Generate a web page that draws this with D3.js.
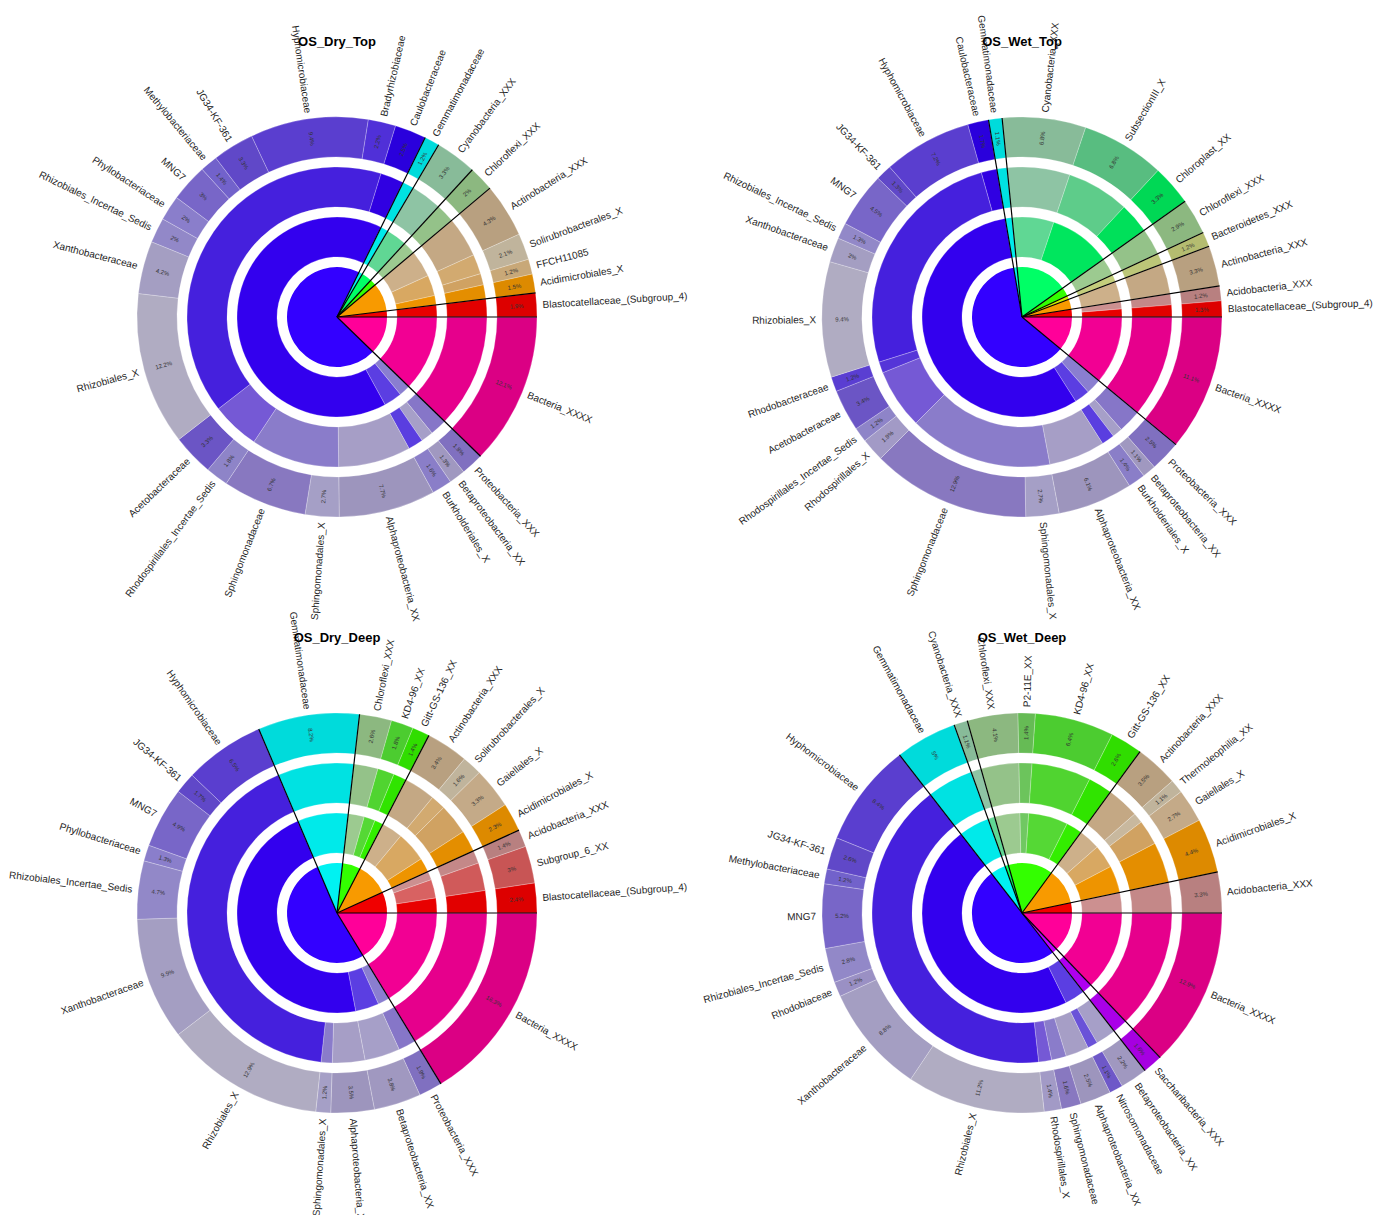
<!DOCTYPE html>
<html>
<head>
<meta charset="utf-8">
<script src="https://cdn.jsdelivr.net/npm/d3@7"></script>
<style>
  body { margin: 0; background: #fff; }
  text { font-family: "Liberation Sans", Arial, sans-serif; }
  .title { font-weight: bold; font-size: 13px; }
  .label { font-size: 10px; fill: #262626; }
  .pct { font-size: 6px; fill: #333; }
</style>
</head>
<body>
<div class="container"></div>
<script>
// ---- data ----
const panelTitles = ['OS_Dry_Top', 'OS_Wet_Top', 'OS_Dry_Deep', 'OS_Wet_Deep'];

const dryTopFamilies = ['Bacteria_XXXX', 'Proteobacteria_XXX', 'Betaproteobacteria_XX', 'Burkholderiales_X',
    'Alphaproteobacteria_XX', 'Sphingomonadales_X', 'Sphingomonadaceae', 'Rhodospirillales_Incertae_Sedis',
    'Acetobacteraceae', 'Rhizobiales_X', 'Xanthobacteraceae', 'Rhizobiales_Incertae_Sedis', 'Phyllobacteriaceae',
    'MNG7', 'Methylobacteriaceae', 'JG34-KF-361', 'Hyphomicrobiaceae', 'Bradyrhizobiaceae', 'Caulobacteraceae',
    'Gemmatimonadaceae', 'Cyanobacteria_XXX', 'Chloroflexi_XXX', 'Actinobacteria_XXX', 'Solirubrobacterales_X',
    'FFCH11085', 'Acidimicrobiales_X', 'Blastocatellaceae_(Subgroup_4)'];
const dryTopPercent = [12.1, 1.8, 1.3, 1.6, 7.7, 2.7, 6.7, 1.8, 3.3, 12.2, 4.2, 2, 2, 3, 1.4, 3.3, 9.4, 2.2, 2.5,
    1.2, 3.3, 2, 4.3, 2.1, 1.2, 1.5, 1.9];

const wetTopFamilies = ['Bacteria_XXXX', 'Proteobacteria_XXX', 'Betaproteobacteria_XX', 'Burkholderiales_X',
    'Alphaproteobacteria_XX', 'Sphingomonadales_X', 'Sphingomonadaceae', 'Rhodospirillales_X',
    'Rhodospirillales_Incertae_Sedis', 'Acetobacteraceae', 'Rhodobacteraceae', 'Rhizobiales_X', 'Xanthobacteraceae',
    'Rhizobiales_Incertae_Sedis', 'MNG7', 'JG34-KF-361', 'Hyphomicrobiaceae', 'Caulobacteraceae',
    'Gemmatimonadaceae', 'Cyanobacteria_XXX', 'SubsectionIII_X', 'Chloroplast_XX', 'Chloroflexi_XXX',
    'Bacteroidetes_XXX', 'Actinobacteria_XXX', 'Acidobacteria_XXX', 'Blastocatellaceae_(Subgroup_4)'];
const wetTopPercent = [11.1, 2.5, 1.1, 1.4, 6.1, 2.7, 12.9, 1.9, 1.2, 3.4, 1.2, 9.4, 2, 1.3, 4.5, 1.3, 7.2, 1.7,
    1.1, 6.8, 6.8, 3.3, 2.9, 1.2, 3.3, 1.2, 1.3];

const dryDeepFamilies = ['Bacteria_XXXX', 'Proteobacteria_XXX', 'Betaproteobacteria_XX', 'Alphaproteobacteria_XX',
    'Sphingomonadales_X', 'Rhizobiales_X', 'Xanthobacteraceae', 'Rhizobiales_Incertae_Sedis', 'Phyllobacteriaceae',
    'MNG7', 'JG34-KF-361', 'Hyphomicrobiaceae', 'Gemmatimonadaceae', 'Chloroflexi_XXX', 'KD4-96_XX',
    'Gitt-GS-136_XX', 'Actinobacteria_XXX', 'Solirubrobacterales_X', 'Gaiellales_X', 'Acidimicrobiales_X',
    'Acidobacteria_XXX', 'Subgroup_6_XX', 'Blastocatellaceae_(Subgroup_4)'];
const dryDeepPercent = [16.3, 1.9, 3.8, 3.5, 1.2, 12.9, 9.9, 4.7, 1.3, 4.9, 1.7, 6.5, 8.2, 2.6, 1.8, 1.4, 3.4, 1.6,
    3.3, 2.3, 1.4, 3.0, 2.4];

const wetDeepFamilies = ['Bacteria_XXXX', 'Saccharibacteria_XXX', 'Betaproteobacteria_XX', 'Nitrosomonadaceae',
    'Alphaproteobacteria_XX', 'Sphingomonadaceae', 'Rhodospirillales_X', 'Rhizobiales_X', 'Xanthobacteraceae',
    'Rhodobiaceae', 'Rhizobiales_Incertae_Sedis', 'MNG7', 'Methylobacteriaceae', 'JG34-KF-361', 'Hyphomicrobiaceae',
    'Gemmatimonadaceae', 'Cyanobacteria_XXX', 'Chloroflexi_XXX', 'P2-11E_XX', 'KD4-96_XX', 'Gitt-GS-136_XX',
    'Actinobacteria_XXX', 'Thermoleophilia_XX', 'Gaiellales_X', 'Acidimicrobiales_X', 'Acidobacteria_XXX'];
const wetDeepPercent = [12.9, 1.6, 2.2, 1.1, 2.5, 1.6, 1.4, 11.2, 8.8, 1.2, 2.8, 5.2, 1.2, 2.6, 8.4,
    5, 1.1, 4.1, 1.4, 6.4, 2.6, 3.5, 1.1, 2.7, 4.4, 3.3];

// family -> [phylum, class, order]
const lineage = {
    'Bacteria_XXXX': ['Bacteria_X', 'Bacteria_XX', 'Bacteria_XXX'],
    'Saccharibacteria_XXX': ['Saccharibacteria', 'Saccharibacteria_X', 'Saccharibacteria_XX'],
    'Proteobacteria_XXX': ['Proteobacteria', 'Proteobacteria_X', 'Proteobacteria_XX'],
    'Betaproteobacteria_XX': ['Proteobacteria', 'Betaproteobacteria', 'Betaproteobacteria_X'],
    'Burkholderiales_X': ['Proteobacteria', 'Betaproteobacteria', 'Burkholderiales'],
    'Nitrosomonadaceae': ['Proteobacteria', 'Betaproteobacteria', 'Nitrosomonadales'],
    'Alphaproteobacteria_XX': ['Proteobacteria', 'Alphaproteobacteria', 'Alphaproteobacteria_X'],
    'Sphingomonadales_X': ['Proteobacteria', 'Alphaproteobacteria', 'Sphingomonadales'],
    'Sphingomonadaceae': ['Proteobacteria', 'Alphaproteobacteria', 'Sphingomonadales'],
    'Rhodospirillales_X': ['Proteobacteria', 'Alphaproteobacteria', 'Rhodospirillales'],
    'Rhodospirillales_Incertae_Sedis': ['Proteobacteria', 'Alphaproteobacteria', 'Rhodospirillales'],
    'Acetobacteraceae': ['Proteobacteria', 'Alphaproteobacteria', 'Rhodospirillales'],
    'Rhodobacteraceae': ['Proteobacteria', 'Alphaproteobacteria', 'Rhodobacterales'],
    'Rhizobiales_X': ['Proteobacteria', 'Alphaproteobacteria', 'Rhizobiales'],
    'Xanthobacteraceae': ['Proteobacteria', 'Alphaproteobacteria', 'Rhizobiales'],
    'Rhodobiaceae': ['Proteobacteria', 'Alphaproteobacteria', 'Rhizobiales'],
    'Rhizobiales_Incertae_Sedis': ['Proteobacteria', 'Alphaproteobacteria', 'Rhizobiales'],
    'Phyllobacteriaceae': ['Proteobacteria', 'Alphaproteobacteria', 'Rhizobiales'],
    'MNG7': ['Proteobacteria', 'Alphaproteobacteria', 'Rhizobiales'],
    'Methylobacteriaceae': ['Proteobacteria', 'Alphaproteobacteria', 'Rhizobiales'],
    'JG34-KF-361': ['Proteobacteria', 'Alphaproteobacteria', 'Rhizobiales'],
    'Hyphomicrobiaceae': ['Proteobacteria', 'Alphaproteobacteria', 'Rhizobiales'],
    'Bradyrhizobiaceae': ['Proteobacteria', 'Alphaproteobacteria', 'Rhizobiales'],
    'Caulobacteraceae': ['Proteobacteria', 'Alphaproteobacteria', 'Caulobacterales'],
    'Gemmatimonadaceae': ['Gemmatimonadetes', 'Gemmatimonadetes_c', 'Gemmatimonadales'],
    'Cyanobacteria_XXX': ['Cyanobacteria', 'Cyanobacteria_X', 'Cyanobacteria_XX'],
    'SubsectionIII_X': ['Cyanobacteria', 'Cyanobacteria_c', 'SubsectionIII'],
    'Chloroplast_XX': ['Cyanobacteria', 'Cyanobacteria_c', 'Chloroplast_X'],
    'Chloroflexi_XXX': ['Chloroflexi', 'Chloroflexi_X', 'Chloroflexi_XX'],
    'P2-11E_XX': ['Chloroflexi', 'P2-11E', 'P2-11E_X'],
    'KD4-96_XX': ['Chloroflexi', 'KD4-96', 'KD4-96_X'],
    'Gitt-GS-136_XX': ['Chloroflexi', 'Gitt-GS-136', 'Gitt-GS-136_X'],
    'Bacteroidetes_XXX': ['Bacteroidetes', 'Bacteroidetes_X', 'Bacteroidetes_XX'],
    'Actinobacteria_XXX': ['Actinobacteria', 'Actinobacteria_X', 'Actinobacteria_XX'],
    'Solirubrobacterales_X': ['Actinobacteria', 'Thermoleophilia', 'Solirubrobacterales'],
    'Thermoleophilia_XX': ['Actinobacteria', 'Thermoleophilia', 'Thermoleophilia_X'],
    'Gaiellales_X': ['Actinobacteria', 'Thermoleophilia', 'Gaiellales'],
    'FFCH11085': ['Actinobacteria', 'Thermoleophilia', 'Gaiellales'],
    'Acidimicrobiales_X': ['Actinobacteria', 'Acidimicrobiia', 'Acidimicrobiales'],
    'Acidobacteria_XXX': ['Acidobacteria', 'Acidobacteria_X', 'Acidobacteria_XX'],
    'Subgroup_6_XX': ['Acidobacteria', 'Subgroup_6', 'Subgroup_6_X'],
    'Blastocatellaceae_(Subgroup_4)': ['Acidobacteria', 'Blastocatellia', 'Blastocatellales']
};

// ---- colours ----
const nodeColors = {
    // phylum
    'Bacteria_X': '#ff0099', 'Proteobacteria': '#3300ff', 'Gemmatimonadetes': '#00f2f2', 'Cyanobacteria': '#00ff66',
    'Chloroflexi': '#33ff00', 'Bacteroidetes': '#ccf000', 'Actinobacteria': '#f89a00', 'Acidobacteria': '#f00000',
    'Saccharibacteria': '#bb00ff',
    // class
    'Bacteria_XX': '#f20093', 'Proteobacteria_X': '#8a7ed0', 'Betaproteobacteria': '#5b3ee2',
    'Alphaproteobacteria': '#3300ee', 'Gemmatimonadetes_c': '#00eaea', 'Cyanobacteria_X': '#60d794',
    'Cyanobacteria_c': '#00e65e', 'Chloroflexi_X': '#9cca90', 'KD4-96': '#55d835', 'Gitt-GS-136': '#33ee00',
    'P2-11E': '#70c862', 'Bacteroidetes_X': '#c4ce7c', 'Actinobacteria_X': '#cdb08a', 'Thermoleophilia': '#d8a862',
    'Acidimicrobiia': '#ee9400', 'Acidobacteria_X': '#cc9090', 'Subgroup_6': '#d86262', 'Blastocatellia': '#e80000',
    'Saccharibacteria_X': '#ae00f0',
    // order
    'Bacteria_XXX': '#e6008c', 'Proteobacteria_XX': '#8676c8', 'Betaproteobacteria_X': '#a69fc8',
    'Burkholderiales': '#5a3ee0', 'Nitrosomonadales': '#6a52d8', 'Alphaproteobacteria_X': '#a69ec6',
    'Sphingomonadales': '#8a7cca', 'Rhodospirillales': '#7559d5', 'Rhodobacterales': '#5535d8',
    'Rhizobiales': '#4520dd', 'Caulobacterales': '#3000e2', 'Gemmatimonadales': '#00e2e2',
    'Cyanobacteria_XX': '#8ec4a4', 'SubsectionIII': '#5ecc8a', 'Chloroplast_X': '#00e05a',
    'Chloroflexi_XX': '#94c289', 'KD4-96_X': '#50d430', 'Gitt-GS-136_X': '#30e400', 'P2-11E_X': '#6cc45c',
    'Bacteroidetes_XX': '#bcc678', 'Actinobacteria_XX': '#c4a884', 'Solirubrobacterales': '#d2aa70',
    'Thermoleophilia_X': '#c8b89e', 'Gaiellales': '#d0a262', 'Acidimicrobiales': '#e48e00',
    'Acidobacteria_XX': '#c48888', 'Subgroup_6_X': '#d05a5a', 'Blastocatellales': '#e20000',
    'Saccharibacteria_XX': '#aa00e8',
    // family
    'Bacteria_XXXX': '#db0084', 'Saccharibacteria_XXX': '#a600e0', 'Proteobacteria_XXX': '#8070c0',
    'Betaproteobacteria_XX': '#a098c0', 'Burkholderiales_X': '#8a7ec8', 'Nitrosomonadaceae': '#6e58c8',
    'Alphaproteobacteria_XX': '#9d95bd', 'Sphingomonadales_X': '#a59fc6', 'Sphingomonadaceae': '#8878c0',
    'Rhodospirillales_X': '#a29ac6', 'Rhodospirillales_Incertae_Sedis': '#8e84c8', 'Acetobacteraceae': '#6b55c5',
    'Rhodobacteraceae': '#5a3ed2', 'Rhizobiales_X': '#b0acc2', 'Xanthobacteraceae': '#a49ec2',
    'Rhodobiaceae': '#9a90c4', 'Rhizobiales_Incertae_Sedis': '#9288c8', 'Phyllobacteriaceae': '#8a7ecb',
    'MNG7': '#7866c8', 'Methylobacteriaceae': '#7262cb', 'JG34-KF-361': '#6048c8', 'Hyphomicrobiaceae': '#5a3ecf',
    'Bradyrhizobiaceae': '#5030d8', 'Caulobacteraceae': '#2a00dc', 'Gemmatimonadaceae': '#00dbdb',
    'Cyanobacteria_XXX': '#88bb99', 'SubsectionIII_X': '#58bd80', 'Chloroplast_XX': '#00d855',
    'Chloroflexi_XXX': '#8cb880', 'P2-11E_XX': '#66bb55', 'KD4-96_XX': '#4ccc30', 'Gitt-GS-136_XX': '#30dd00',
    'Bacteroidetes_XXX': '#b4bc70', 'Actinobacteria_XXX': '#b8a080', 'Solirubrobacterales_X': '#c0b49c',
    'Thermoleophilia_XX': '#c0b49c', 'Gaiellales_X': '#c4aa88', 'FFCH11085': '#c8a878',
    'Acidimicrobiales_X': '#dd8a00', 'Acidobacteria_XXX': '#b88080', 'Subgroup_6_XX': '#c85555',
    'Blastocatellaceae_(Subgroup_4)': '#dd0000'
};

// ---- layout ----
const WIDTH = 1385;
const HEIGHT = 1215;
const CENTERS = [[337, 317], [1022, 317], [337, 913], [1022, 913]];
const R_IN = [0, 0, 60, 110, 160];
const R_OUT = [0, 50, 100, 150, 200];
const LABEL_R = 206;
const PCT_R = 180;

let translate = (x, y) => `translate(${x},${y})`;

let buildTree = function (families, percents) {
    let root = {name: 'root', children: []};
    families.forEach((f, i) => {
        let node = root;
        lineage[f].forEach(level => {
            let child = node.children.find(c => c.name === level);
            if (!child) {
                child = {name: level, children: []};
                node.children.push(child);
            }
            node = child;
        });
        node.children.push({name: f, value: percents[i]});
    });
    return root;
};

let radialTransform = (d, r) => {
    let phi = (d.x0 + d.x1) / 2;
    let deg = phi * 180 / Math.PI;
    return `rotate(${deg}) translate(${r},0)` + (Math.cos(phi) >= 0 ? '' : ' rotate(180)');
};
let isRight = d => Math.cos((d.x0 + d.x1) / 2) >= 0;

const drawPanel = function (svg, title, families, percents, center) {
    let root = d3.hierarchy(buildTree(families, percents)).sum(d => d.value || 0);
    d3.partition().size([2 * Math.PI, 5])(root);

    let arc = d3.arc()
        .startAngle(d => d.x0 + Math.PI / 2)
        .endAngle(d => d.x1 + Math.PI / 2)
        .innerRadius(d => R_IN[d.depth])
        .outerRadius(d => R_OUT[d.depth]);

    let g = svg.append('g').attr('transform', translate(center[0], center[1]));

    g.append('g').selectAll('path')
        .data(root.descendants().filter(d => d.depth > 0))
        .enter().append('path')
        .attr('d', arc)
        .attr('fill', d => nodeColors[d.data.name] || '#999')
        .attr('stroke', d => d.depth > 1 ? '#fff' : 'none')
        .attr('stroke-opacity', 0.35)
        .attr('stroke-width', 0.7);

    // phylum separators
    g.append('g').selectAll('line')
        .data(root.children)
        .enter().append('line')
        .attr('x1', 0).attr('y1', 0)
        .attr('x2', d => R_OUT[4] * Math.cos(d.x0))
        .attr('y2', d => R_OUT[4] * Math.sin(d.x0))
        .attr('stroke', '#000')
        .attr('stroke-width', 1.2);

    let leaves = root.leaves();

    g.append('g').selectAll('text')
        .data(leaves)
        .enter().append('text')
        .attr('class', 'pct')
        .attr('transform', d => radialTransform(d, PCT_R))
        .attr('text-anchor', 'middle')
        .attr('dy', '0.35em')
        .text(d => d.data.value + '%');

    g.append('g').selectAll('text')
        .data(leaves)
        .enter().append('text')
        .attr('class', 'label')
        .attr('transform', d => radialTransform(d, LABEL_R))
        .attr('text-anchor', d => isRight(d) ? 'start' : 'end')
        .attr('dy', '0.35em')
        .text(d => d.data.name);

    svg.append('text')
        .attr('class', 'title')
        .attr('x', center[0])
        .attr('y', center[1] - 271)
        .attr('text-anchor', 'middle')
        .text(title);
};

const loadChart = function () {
    let svg = d3.select('.container').append('svg')
        .attr('width', WIDTH)
        .attr('height', HEIGHT)
        .style('display', 'block');

    svg.append('rect').attr('width', WIDTH).attr('height', HEIGHT).attr('fill', '#fff');

    let panels = [
        [dryTopFamilies, dryTopPercent],
        [wetTopFamilies, wetTopPercent],
        [dryDeepFamilies, dryDeepPercent],
        [wetDeepFamilies, wetDeepPercent]
    ];
    panels.forEach((p, i) => drawPanel(svg, panelTitles[i], p[0], p[1], CENTERS[i]));
};

window.onload = loadChart;
</script>
</body>
</html>
